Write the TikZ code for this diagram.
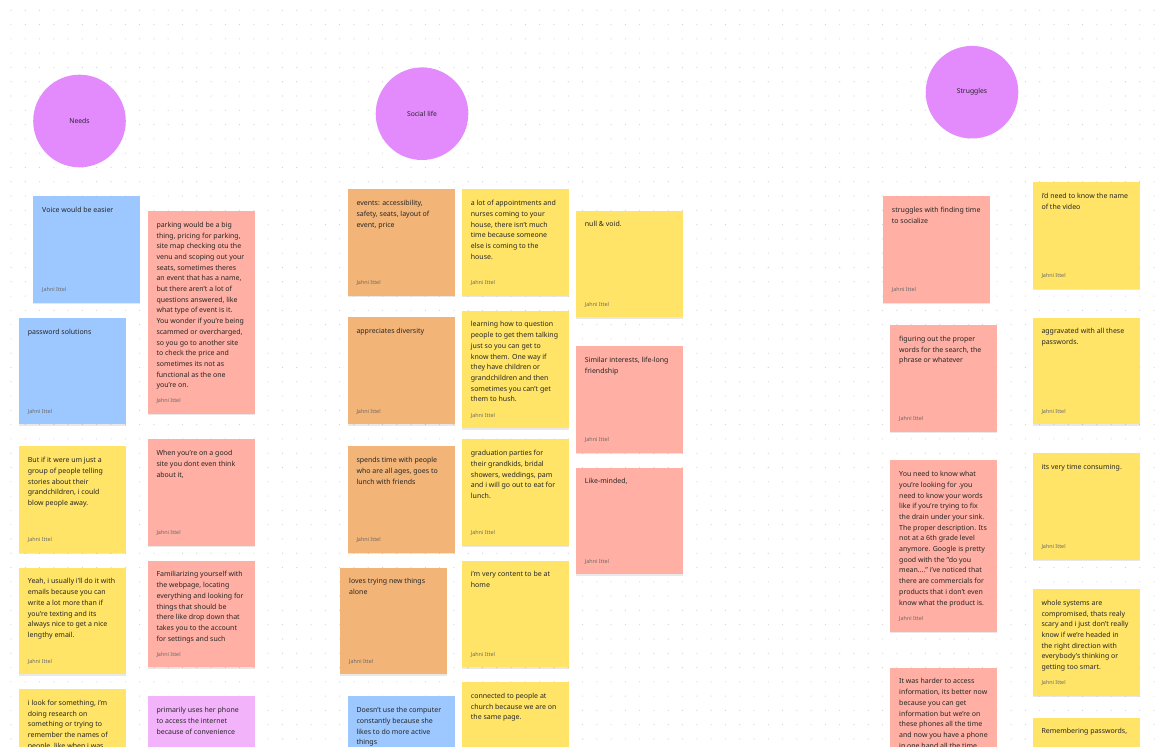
\documentclass[tikz,border=0pt]{standalone}
\usepackage{fontspec}
\setmainfont{Noto Sans}
\usetikzlibrary{shadows}
\definecolor{nblue}{HTML}{9DC7FF}
\definecolor{npink}{HTML}{FFAFA3}
\definecolor{nyellow}{HTML}{FFE468}
\definecolor{norange}{HTML}{F3B478}
\definecolor{nviolet}{HTML}{F2B3FB}
\definecolor{ncircle}{HTML}{E38AFD}
\definecolor{ntext}{HTML}{262626}
\definecolor{nauthor}{HTML}{6A6A6A}
\definecolor{ndot}{HTML}{CFCFCF}
\tikzset{
  notebox/.style={draw=none, rectangle, inner sep=0pt, anchor=north west,
    minimum width=107pt,
    drop shadow={shadow xshift=0.2pt, shadow yshift=-1.4pt, opacity=0.09, fill=black}},
  notetext/.style={anchor=north west, inner sep=0pt, align=left, text=ntext,
    font=\fontsize{7.0}{10.7}\selectfont},
  authortext/.style={anchor=west, inner sep=0pt, text=nauthor,
    font=\fontsize{5.4}{6}\selectfont},
  topic/.style={circle, fill=ncircle, minimum size=92.6pt, inner sep=0pt, text=ntext,
    font=\fontsize{6.8}{8}\selectfont},
}
\newcommand\stickynote[6]{%
  \node[notebox, fill=#2, minimum height={(#5)-(#4)}] (#1) at (#3,#4) {};
  \node[notetext] (#1-t) at ([xshift=9pt,yshift=-9.0pt]#1.north west) {\strut #6};
  \node[authortext] (#1-a) at ([xshift=9pt,yshift=12.7pt]#1.south west) {Jahni Ittel};
}
\begin{document}
\begin{tikzpicture}[x=1pt,y=-1pt]
\clip (0,0) rectangle (1155,746);
\fill[white] (0,0) rectangle (1155,746);
% dot grid
\foreach \i in {0,...,80}{
  \foreach \j in {0,...,51}{
    \fill[ndot] ({11+14.288*\i},{10.3+14.288*\j}) circle (0.55);
  }
}
% topic circles
\node[topic] (needs) at (79.5,121) {Needs};
\node[topic] (social) at (422,113.7) {Social life};
\node[topic] (struggles) at (972,92.2) {Struggles};

% Needs column
\stickynote{n1}{nblue}{33}{196}{302.7}{Voice would be easier}
\stickynote{n2}{npink}{147.3}{210.7}{413.3}{parking would be a big\\thing, pricing for parking,\\site map checking otu the\\venu and scoping out your\\seats, sometimes theres\\an event that has a name,\\but there aren't a lot of\\questions answered, like\\what type of event is it.\\You wonder if you're being\\scammed or overcharged,\\so you go to another site\\to check the price and\\sometimes its not as\\functional as the one\\you're on.}
\stickynote{n3}{nblue}{18.7}{317.7}{424}{password solutions}
\stickynote{n4}{nyellow}{18.7}{446}{552.7}{But if it were um just a\\group of people telling\\stories about their\\grandchildren, i could\\blow people away.}
\stickynote{n5}{npink}{147.3}{439}{545.7}{When you're on a good\\site you dont even think\\about it,}
\stickynote{n6}{nyellow}{18.7}{567.3}{674}{Yeah, i usually i'll do it with\\emails because you can\\write a lot more than if\\you're texting and its\\always nice to get a nice\\lengthy email.}
\stickynote{n7}{npink}{147.3}{560.3}{667}{Familiarizing yourself with\\the webpage, locating\\everything and looking for\\things that should be\\there like drop down that\\takes you to the account\\for settings and such}
\stickynote{n8}{nyellow}{18.7}{688.7}{860}{i look for something, i'm\\doing research on\\something or trying to\\remember the names of\\people, like when i was}
\stickynote{n9}{nviolet}{147.3}{696}{860}{primarily uses her phone\\to access the internet\\because of convenience}

% Social life column
\stickynote{s1}{norange}{347.3}{189}{295.7}{events: accessibility,\\safety, seats, layout of\\event, price}
\stickynote{s2}{nyellow}{461.7}{189}{295.7}{a lot of appointments and\\nurses coming to your\\house, there isn't much\\time because someone\\else is coming to the\\house.}
\stickynote{s3}{norange}{347.3}{317}{424}{appreciates diversity}
\stickynote{s4}{nyellow}{461.7}{310.3}{428}{learning how to question\\people to get them talking\\just so you can get to\\know them. One way if\\they have children or\\grandchildren and then\\sometimes you can't get\\them to hush.}
\stickynote{s5}{norange}{347.3}{446}{552.7}{spends time with people\\who are all ages, goes to\\lunch with friends}
\stickynote{s6}{nyellow}{461.7}{439}{545.7}{graduation parties for\\their grandkids, bridal\\showers, weddings, pam\\and i will go out to eat for\\lunch.}
\stickynote{s7}{norange}{340}{567.3}{674}{loves trying new things\\alone}
\stickynote{s8}{nyellow}{461.7}{560.3}{667}{i'm very content to be at\\home}
\stickynote{s9}{nblue}{347.3}{696}{860}{Doesn't use the computer\\constantly because she\\likes to do more active\\things}
\stickynote{s10}{nyellow}{461.7}{681.7}{860}{connected to people at\\church because we are on\\the same page.}
\stickynote{s11}{nyellow}{575.7}{210.3}{317}{null \& void.}
\stickynote{s12}{npink}{575.7}{346}{452.7}{Similar interests, life-long\\friendship}
\stickynote{s13}{npink}{575.7}{467.3}{574}{Like-minded,}

% Struggles column
\stickynote{g1}{npink}{882.7}{196}{302.7}{struggles with finding time\\to socialize}
\stickynote{g2}{nyellow}{1032.3}{181.7}{288.7}{i'd need to know the name\\of the video}
\stickynote{g3}{npink}{890}{324.7}{431.3}{figuring out the proper\\words for the search, the\\phrase or whatever}
\stickynote{g4}{nyellow}{1032.3}{317.3}{424}{aggravated with all these\\passwords.}
\stickynote{g5}{npink}{890}{460}{631.7}{You need to know what\\you're looking for .you\\need to know your words\\like if you're trying to fix\\the drain under your sink.\\The proper description. Its\\not at a 6th grade level\\anymore. Google is pretty\\good with the "do you\\mean...." i've noticed that\\there are commercials for\\products that i don't even\\know what the product is.}
\stickynote{g6}{nyellow}{1032.3}{453}{559.7}{its very time consuming.}
\stickynote{g7}{nyellow}{1032.3}{588.7}{695.7}{whole systems are\\compromised, thats realy\\scary and i just don't really\\know if we're headed in\\the right direction with\\everybody's thinking or\\getting too smart.}
\stickynote{g8}{npink}{890}{667.3}{860}{It was harder to access\\information, its better now\\because you can get\\information but we're on\\these phones all the time\\and now you have a phone\\in one hand all the time}
\stickynote{g9}{nyellow}{1032.3}{717.3}{860}{Remembering passwords,}
\end{tikzpicture}
\end{document}
